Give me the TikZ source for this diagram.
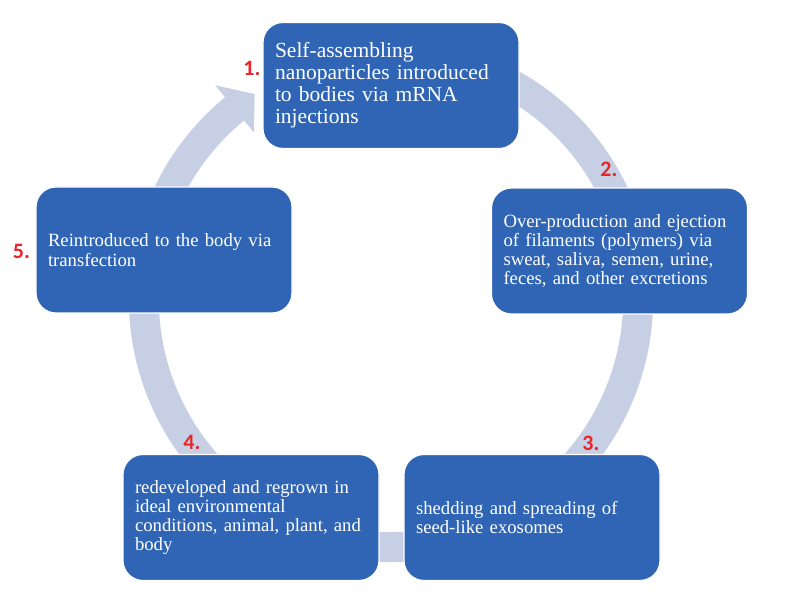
\documentclass[tikz,border=0pt]{standalone}
\usepackage{fontspec}
\setmainfont{Liberation Serif}
\newfontfamily\numfont{Carlito}
\usetikzlibrary{calc}
\definecolor{boxblue}{RGB}{47,101,180}
\definecolor{ringcol}{RGB}{199,207,228}
\definecolor{numred}{RGB}{232,38,42}
\begin{document}
\begin{tikzpicture}[x=1pt,y=1pt,
  stepbox/.style={draw=white, line width=1.2pt, fill=boxblue, rounded corners=20pt,
    minimum width=256pt, minimum height=126pt, text width=232pt, inner xsep=12pt,
    inner ysep=0pt, align=left, text=white, font=\fontsize{18.7}{19.3}\selectfont},
  numlabel/.style={text=numred, font=\numfont\bfseries\fontsize{22}{22}\selectfont, inner sep=0pt},
  ringline/.style={draw=ringcol, line width=30pt}]
\useasboundingbox (0,0) rectangle (785,607);
\coordinate (c) at (391,307);
\draw[ringline] ([shift={(70:247)}]c) arc[start angle=70, end angle=-231, radius=247pt];
\fill[ringcol] ([shift={(129.3:277.5)}]c) -- ([shift={(123.5:247)}]c) -- ([shift={(129.3:216.5)}]c) -- cycle;
\node[stepbox, font=\fontsize{21.5}{22}\selectfont] (b1) at (391,521.5) {Self-assembling\\nanoparticles introduced\\to bodies via mRNA\\injections};
\node[stepbox] (b2) at (619.5,356) {Over-production and ejection\\of filaments (polymers) via\\sweat, saliva, semen, urine,\\feces, and other excretions};
\node[stepbox] (b3) at (532,89.5) {shedding and spreading of\\seed-like exosomes};
\node[stepbox] (b4) at (251,89.5) {redeveloped and regrown in\\ideal environmental\\conditions, animal, plant, and\\body};
\node[stepbox] (b5) at (164,357) {Reintroduced to the body via\\transfection};
\node[numlabel] (n1) at (252,539) {1.};
\node[numlabel] (n2) at (609,438) {2.};
\node[numlabel] (n3) at (591,164) {3.};
\node[numlabel] (n4) at (192,165) {4.};
\node[numlabel] (n5) at (21.5,356) {5.};
\end{tikzpicture}
\end{document}
